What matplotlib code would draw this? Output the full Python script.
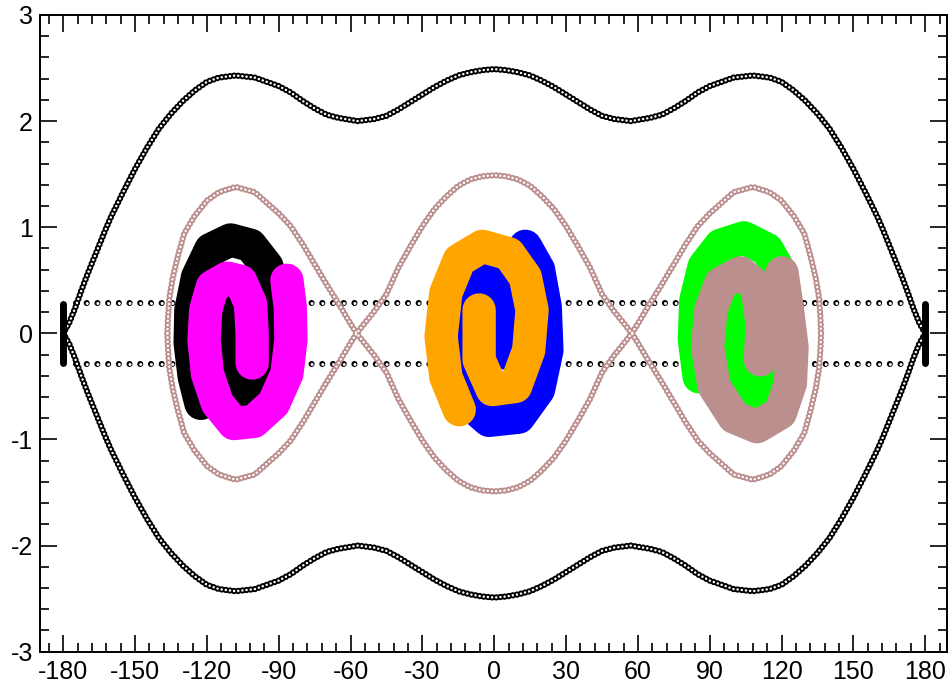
import matplotlib
matplotlib.use("Agg")
import matplotlib.pyplot as plt
from matplotlib.ticker import MultipleLocator

plt.rcParams['font.family'] = ['Liberation Sans', 'DejaVu Sans']
plt.rcParams['lines.scale_dashes'] = False
plt.rcParams['axes.unicode_minus'] = False

# outer black separatrix, upper branch (lower branch is its mirror in y)
outer_x = [-180, -177.5, -175, -172.5, -170, -167.5, -165, -162.5, -160, -155, -150,
           -145, -140, -135, -130, -125, -120, -115, -108, -100, -95, -90, -85, -80,
           -75, -70, -65, -57, -50, -45, -40, -35, -30, -25, -20, -15, -10, -5, 0,
           5, 10, 15, 20, 25, 30, 35, 40, 45, 50, 57, 65, 70, 75, 80, 85, 90,
           95, 100, 108, 115, 120, 125, 130, 135, 140, 145, 150, 155, 160, 162.5,
           165, 167.5, 170, 172.5, 175, 177.5, 180]
outer_top = [0.00, 0.10, 0.24, 0.40, 0.55, 0.69, 0.83, 0.97, 1.10, 1.33, 1.55,
             1.75, 1.93, 2.07, 2.19, 2.29, 2.37, 2.41, 2.43, 2.41, 2.37, 2.33, 2.27, 2.19,
             2.12, 2.06, 2.03, 2.00, 2.02, 2.05, 2.11, 2.18, 2.25, 2.32, 2.38, 2.43, 2.46,
             2.48, 2.49,
             2.48, 2.46, 2.43, 2.38, 2.32, 2.25, 2.18, 2.11, 2.05, 2.02, 2.00, 2.03, 2.06,
             2.12, 2.19, 2.27, 2.33, 2.37, 2.41, 2.43, 2.41, 2.37, 2.29, 2.19, 2.07, 1.93,
             1.75, 1.55, 1.33, 1.10, 0.97, 0.83, 0.69, 0.55, 0.40, 0.24, 0.10, 0.00]
outer_bot = [-v for v in outer_top]

# inner rosy-brown separatrix (one strand; the other is its mirror in y)
inner_x = [-136.5, -136.3, -135.7, -134.3, -132.2, -129.5, -125.3, -120, -115, -108,
           -100, -95, -90, -85, -80, -75, -70, -65, -60, -57.5,
           -50, -45, -40, -35, -30, -25, -20, -15, -10, -5, 0,
           5, 10, 15, 20, 25, 30, 35, 40, 45, 50,
           57.5, 60, 65, 70, 75, 80, 85, 90, 95, 100,
           108, 115, 120, 125.3, 129.5, 132.2, 134.3, 135.7, 136.3, 136.5]
inner_a = [0.00, 0.13, 0.33, 0.52, 0.72, 0.94, 1.10, 1.25, 1.33, 1.38,
           1.33, 1.23, 1.13, 1.01, 0.84, 0.65, 0.46, 0.28, 0.09, 0.00,
           -0.21, -0.37, -0.62, -0.82, -1.01, -1.17, -1.29, -1.39, -1.45, -1.48, -1.49,
           -1.48, -1.45, -1.39, -1.29, -1.17, -1.01, -0.82, -0.62, -0.37, -0.21,
           0.00, 0.09, 0.28, 0.46, 0.65, 0.84, 1.01, 1.13, 1.23, 1.33,
           1.38, 1.33, 1.25, 1.10, 0.94, 0.72, 0.52, 0.33, 0.13, 0.00]
inner_b = [-v for v in inner_a]

# dotted lines and end bars
dot_x = [-174.7, 173.5]
dot_y = [0.285, -0.285]
bar_x = [-180, 180]
bar_y = [-0.28, 0.28]

# spiral arms (centre lines)
black_arm_x = [-111.5, -112.2, -110.8, -105.9, -97.6, -92.8, -91.4, -92.1, -94.9, -101.8,
               -110.1, -118.4, -123.9, -126.7, -127.0, -125.3, -122.5]
black_arm_y = [0.22, -0.06, -0.38, -0.60, -0.57, -0.32, 0.00, 0.31, 0.63, 0.83,
               0.88, 0.79, 0.53, 0.22, -0.09, -0.41, -0.66]
magenta_arm_x = [-101.1, -101.1, -101.8, -105.9, -111.5, -117.7, -120.5, -121.2, -119.8,
                 -115.6, -108.7, -100.4, -92.1, -86.6, -84.9, -85.2, -86.6]
magenta_arm_y = [-0.28, 0.00, 0.28, 0.49, 0.52, 0.44, 0.22, -0.06, -0.38,
                 -0.66, -0.85, -0.83, -0.66, -0.38, -0.06, 0.25, 0.50]
blue_arm_x = [5.4, 5.4, 2.0, -6.3, -14.6, -16.7, -16.0, -11.9, -2.2, 10.2, 18.5, 22.0,
              21.3, 18.5, 13.0]
blue_arm_y = [-0.19, 0.16, 0.44, 0.53, 0.38, 0.06, -0.32, -0.63, -0.82, -0.79, -0.53,
              -0.16, 0.25, 0.60, 0.82]
orange_arm_x = [-6.3, -6.3, -0.8, 8.9, 14.4, 15.8, 13.0, 6.1, -5.0, -14.6, -20.2, -22.2,
                -20.2, -14.6]
orange_arm_y = [0.22, -0.25, -0.53, -0.50, -0.16, 0.22, 0.53, 0.75, 0.82, 0.69, 0.38,
                -0.03, -0.41, -0.72]
green_arm_x = [100.2, 99.5, 102.2, 108.5, 116.8, 120.9, 121.6, 119.5, 114.0, 104.3, 94.6,
               87.7, 84.2, 83.6, 85.6]
green_arm_y = [0.25, -0.09, -0.44, -0.60, -0.50, -0.16, 0.22, 0.57, 0.79, 0.90, 0.83,
               0.63, 0.31, -0.06, -0.41]
brown_arm_x = [111.2, 111.9, 109.8, 102.9, 94.6, 90.5, 89.1, 91.9, 100.2, 109.8, 119.5,
               123.7, 124.4, 122.3, 120.2]
brown_arm_y = [-0.25, 0.09, 0.44, 0.57, 0.47, 0.22, -0.13, -0.50, -0.79, -0.88, -0.75,
               -0.47, -0.13, 0.25, 0.57]

ROSY = '#bc8f8f'


def ring_line(ax, x, y, color, size, gap, z, hole=0.4):
    # chain of small hollow circles along a path
    ax.plot(x, y, color=color, lw=size, ls=(0, (0.01, gap)),
            dash_capstyle='round', zorder=z)
    ax.plot(x, y, color='white', lw=size * hole, ls=(0, (0.01, gap)),
            dash_capstyle='round', zorder=z + 0.01)


def arm(ax, x, y, color, z):
    ax.plot(x, y, color=color, lw=24, solid_capstyle='round',
            solid_joinstyle='round', zorder=z)


fig = plt.figure(figsize=(9.51, 6.87), dpi=100)
ax = fig.add_axes([0.0421, 0.0514, 0.9534, 0.9268])

ring_line(ax, outer_x, outer_top, 'black', 4.6, 3.0, 2)
ring_line(ax, outer_x, outer_bot, 'black', 4.6, 3.0, 2)
for yy in dot_y:
    ring_line(ax, dot_x, [yy, yy], 'black', 4.4, 7.7, 1, hole=0.5)
for xx in bar_x:
    ax.plot([xx, xx], bar_y, color='black', lw=5, solid_capstyle='round', zorder=3)
ring_line(ax, inner_x, inner_a, ROSY, 4.6, 3.0, 3)
ring_line(ax, inner_x, inner_b, ROSY, 4.6, 3.0, 3)

arm(ax, black_arm_x, black_arm_y, 'black', 5)
arm(ax, magenta_arm_x, magenta_arm_y, '#ff00ff', 6)
arm(ax, blue_arm_x, blue_arm_y, '#0000ff', 5)
arm(ax, orange_arm_x, orange_arm_y, '#ffa500', 6)
arm(ax, green_arm_x, green_arm_y, '#00ff00', 5)
arm(ax, brown_arm_x, brown_arm_y, ROSY, 6)

ax.set_xlim(-189.7, 189.0)
ax.set_ylim(-3, 3)
ax.xaxis.set_major_locator(MultipleLocator(30))
ax.xaxis.set_minor_locator(MultipleLocator(6))
ax.yaxis.set_major_locator(MultipleLocator(1))
ax.yaxis.set_minor_locator(MultipleLocator(0.2))
ax.tick_params(which='both', direction='in', top=True, right=True, width=1.2,
               labelsize=18, pad=6)
ax.tick_params(which='major', length=12)
ax.tick_params(which='minor', length=6.5)
ax.tick_params(axis='y', pad=5)
for s in ax.spines.values():
    s.set_linewidth(1.4)

fig.savefig('out.png', dpi=100)
